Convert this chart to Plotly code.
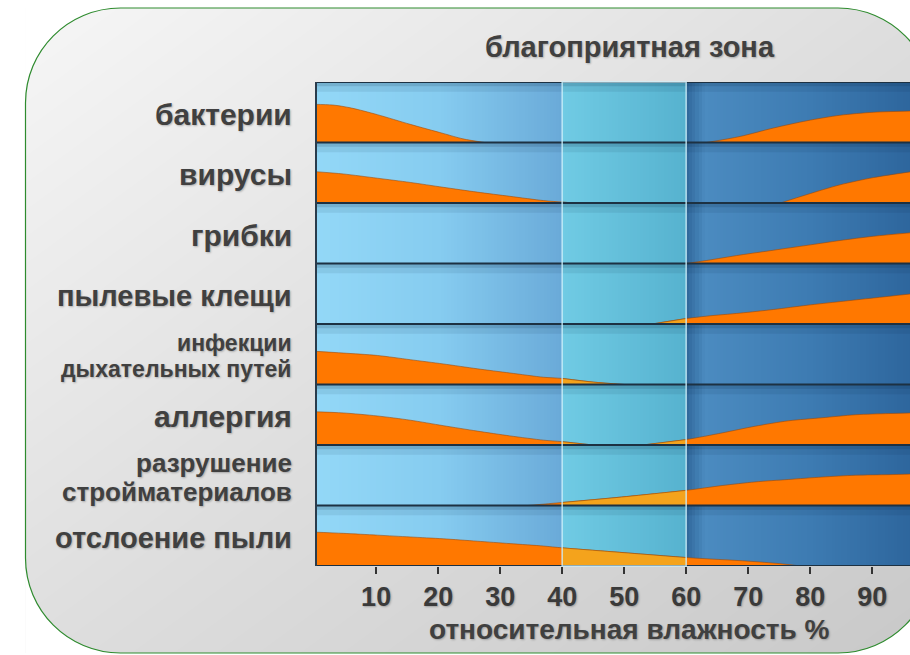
import plotly.graph_objects as go

# ---------------- data ----------------
categories = ["бактерии", "вирусы", "грибки", "пылевые клещи",
              "инфекции\nдыхательных путей", "аллергия",
              "разрушение\nстройматериалов", "отслоение пыли"]

x_ticks = [10, 20, 30, 40, 50, 60, 70, 80, 90]
zone_range = [40, 60]

# humidity (%) and relative band height (fraction of row) for each hazard
bact_left_x = [0, 3, 6, 10.2, 15.5, 20.8, 24, 27.5]
bact_left_h = [0.63, 0.62, 0.57, 0.46, 0.30, 0.15, 0.06, 0.0]
bact_right_x = [63.3, 68.7, 74.1, 79.5, 84.8, 90.2, 96.5]
bact_right_h = [0.0, 0.10, 0.24, 0.36, 0.45, 0.50, 0.52]

virus_left_x = [0, 4.7, 10.2, 15.5, 20.8, 26.3, 31.6, 37, 40, 42]
virus_left_h = [0.52, 0.48, 0.41, 0.34, 0.26, 0.18, 0.11, 0.04, 0.015, 0.0]
virus_right_x = [75.2, 79.5, 84.8, 90.2, 96.5]
virus_right_h = [0.0, 0.14, 0.30, 0.42, 0.52]

fungi_right_x = [60, 63.3, 68.7, 74.1, 79.5, 84.8, 90.2, 96.5]
fungi_right_h = [0.0, 0.05, 0.14, 0.22, 0.30, 0.38, 0.45, 0.51]

mites_right_x = [54.5, 60, 63.3, 68.7, 74.1, 79.5, 84.8, 90.2, 96.5]
mites_right_h = [0.0, 0.09, 0.13, 0.18, 0.24, 0.31, 0.37, 0.43, 0.50]

resp_left_x = [0, 4.7, 10.2, 15.5, 20.8, 26.3, 31.6, 37, 40, 45, 50]
resp_left_h = [0.55, 0.52, 0.48, 0.41, 0.34, 0.26, 0.19, 0.12, 0.10, 0.04, 0.0]

allergy_left_x = [0, 4.7, 10.2, 15.5, 20.8, 26.3, 31.6, 37, 40, 45]
allergy_left_h = [0.55, 0.53, 0.48, 0.41, 0.32, 0.23, 0.15, 0.08, 0.055, 0.0]
allergy_right_x = [53, 60, 65.8, 71.1, 76.5, 81.9, 87.3, 92.7, 96.5]
allergy_right_h = [0.0, 0.09, 0.20, 0.31, 0.40, 0.45, 0.50, 0.52, 0.53]

build_right_x = [34.5, 40, 49.6, 60, 65.8, 71.1, 76.5, 81.9, 87.3, 92.7, 96.5]
build_right_h = [0.0, 0.05, 0.14, 0.25, 0.33, 0.39, 0.43, 0.47, 0.50, 0.51, 0.52]

dust_left_x = [0, 4.7, 10.2, 15.5, 20.8, 26.3, 31.6, 37, 40, 50, 60, 70, 75, 78.5]
dust_left_h = [0.56, 0.54, 0.51, 0.48, 0.45, 0.41, 0.37, 0.33, 0.30, 0.22, 0.14, 0.08, 0.04, 0.0]

series = [  # (row index from top, x, h)
    (0, bact_left_x, bact_left_h), (0, bact_right_x, bact_right_h),
    (1, virus_left_x, virus_left_h), (1, virus_right_x, virus_right_h),
    (2, fungi_right_x, fungi_right_h),
    (3, mites_right_x, mites_right_h),
    (4, resp_left_x, resp_left_h),
    (5, allergy_left_x, allergy_left_h), (5, allergy_right_x, allergy_right_h),
    (6, build_right_x, build_right_h),
    (7, dust_left_x, dust_left_h),
]

# ---------------- styling ----------------
W, H = 910, 655
PL, PT, PB = 316, 82, 566
FONT = "Liberation Sans, Arial, sans-serif"
TXT = "#404040"
SHADOW = "1px 1px 2px rgba(0,0,0,0.25)"
ORANGE = "#ff7800"
AMBER = "#f4a31c"
NROWS = len(categories)
# per-label font size / line pitch (px)
label_sizes = [30, 30, 30, 29, 23, 30, 26, 29]
label_pitch = [0, 0, 0, 0, 26, 0, 29.5, 0]


def fx(p):
    return p / W


def fy(p):
    return 1 - p / H


fig = go.Figure()

# page background gradient (decorative)
fig.add_trace(go.Heatmap(
    x=[0, 1], y=[0, 1], z=[[1, 2], [0, 1]], zsmooth="best",
    colorscale=[[0, "#f6f6f6"], [0.5, "#dedede"], [1, "#c9c9c9"]],
    showscale=False, hoverinfo="skip", xaxis="x", yaxis="y"))

# chart background gradient with favourable zone
z0, z1 = zone_range
bg_scale = [
    [0.0, "#93d8f7"], [0.2, "#86ccf0"], [z0 / 100, "#6aaad8"],
    [z0 / 100 + 0.0001, "#70cbe4"], [z1 / 100, "#56b2cf"],
    [z1 / 100 + 0.0001, "#2f6699"], [z1 / 100 + 0.03, "#4b8bc0"],
    [0.8, "#3d7bb2"], [1.0, "#2a6198"],
]
edges = [i * 0.5 for i in range(0, 201)]
centers = [(a + b) / 2 for a, b in zip(edges[:-1], edges[1:])]
fig.add_trace(go.Heatmap(
    x=edges, y=[0, NROWS], z=[centers], zmin=0, zmax=100,
    colorscale=bg_scale, showscale=False, hoverinfo="skip",
    xaxis="x2", yaxis="y2"))

# hazard bands
for row, xs, hs in series:
    base = NROWS - 1 - row
    top = [base + h for h in hs]
    for color, sel in ((ORANGE, None), (AMBER, (z0, z1))):
        if sel is None:
            px_, py_ = xs, top
        else:
            idx = [i for i, x in enumerate(xs) if sel[0] <= x <= sel[1]]
            if len(idx) < 2:
                continue
            px_ = [xs[i] for i in idx]
            py_ = [top[i] for i in idx]
        fig.add_trace(go.Scatter(x=[px_[0], px_[-1]], y=[base, base], mode="lines",
                                 line=dict(width=0), hoverinfo="skip",
                                 showlegend=False, xaxis="x2", yaxis="y2"))
        fig.add_trace(go.Scatter(x=px_, y=py_, mode="lines", fill="tonexty",
                                 fillcolor=color,
                                 line=dict(color="rgba(150,70,10,0.55)", width=1,
                                           shape="spline", smoothing=0.8),
                                 hoverinfo="skip", showlegend=False,
                                 xaxis="x2", yaxis="y2"))

shapes = []
# row separators with a soft shadow below
for k in range(NROWS + 1):
    shapes.append(dict(type="rect", xref="x2 domain", yref="y2", x0=0, x1=1,
                       y0=k - 0.07, y1=k, fillcolor="rgba(0,25,50,0.20)",
                       line=dict(width=0), layer="above"))
    shapes.append(dict(type="rect", xref="x2 domain", yref="y2", x0=0, x1=1,
                       y0=k - 0.16, y1=k - 0.07, fillcolor="rgba(0,25,50,0.08)",
                       line=dict(width=0), layer="above"))
    shapes.append(dict(type="line", xref="x2 domain", yref="y2", x0=0, x1=1,
                       y0=k, y1=k, line=dict(color="#1d3142", width=2),
                       layer="above"))
# left border
shapes.append(dict(type="line", xref="x2 domain", yref="y2 domain", x0=0, x1=0,
                   y0=0, y1=1, line=dict(color="#2a3c4c", width=2), layer="above"))
# zone outline
shapes.append(dict(type="rect", xref="x2", yref="y2 domain", x0=z0, x1=z1,
                   y0=0, y1=1, line=dict(color="rgba(205,240,250,0.85)", width=1.5),
                   layer="above"))

# rounded frame
L, T, R, B, r = 25.5, 8, 933, 653, 95
k = 0.5523 * r


def P(x, y):
    return f"{fx(x):.5f},{fy(y):.5f}"


masks = [
    f"M{P(L, T)} L{P(L + r, T)} C{P(L + r - k, T)} {P(L, T + r - k)} {P(L, T + r)} Z",
    f"M{P(R, T)} L{P(R, T + r)} C{P(R, T + r - k)} {P(R - r + k, T)} {P(R - r, T)} Z",
    f"M{P(L, B)} L{P(L, B - r)} C{P(L, B - r + k)} {P(L + r - k, B)} {P(L + r, B)} Z",
    f"M{P(R, B)} L{P(R - r, B)} C{P(R - r + k, B)} {P(R, B - r + k)} {P(R, B - r)} Z",
]
for m in masks:
    shapes.append(dict(type="path", xref="paper", yref="paper", path=m,
                       fillcolor="white", line=dict(width=0), layer="above"))
frame = (f"M{P(L + r, T)} L{P(R - r, T)} C{P(R - r + k, T)} {P(R, T + r - k)} {P(R, T + r)} "
         f"L{P(R, B - r)} C{P(R, B - r + k)} {P(R - r + k, B)} {P(R - r, B)} "
         f"L{P(L + r, B)} C{P(L + r - k, B)} {P(L, B - r + k)} {P(L, B - r)} "
         f"L{P(L, T + r)} C{P(L, T + r - k)} {P(L + r - k, T)} {P(L + r, T)} Z")
shapes.append(dict(type="path", xref="paper", yref="paper", path=frame,
                   line=dict(color="#2e8b2e", width=1.2), layer="above"))

# category labels
annotations = []
row_h = (PB - PT) / NROWS
for i, cat in enumerate(categories):
    lines = cat.split("\n")
    center = PT + (i + 0.5) * row_h
    n = len(lines)
    for j, ln in enumerate(lines):
        annotations.append(dict(
            text=ln, x=fx(293),
            y=fy(center + 2 + (j - (n - 1) / 2) * label_pitch[i]),
            xref="paper", yref="paper", xanchor="right", yanchor="middle",
            showarrow=False, borderpad=0,
            font=dict(family=FONT, size=label_sizes[i], color=TXT,
                      weight="bold", shadow=SHADOW)))

annotations.append(dict(text="благоприятная зона", x=(z0 + z1) / 2 + 0.9, y=fy(47),
                        xref="x2", yref="paper", xanchor="center", yanchor="middle",
                        showarrow=False,
                        font=dict(family=FONT, size=29, color=TXT, weight="bold",
                                  shadow=SHADOW)))
annotations.append(dict(text="относительная влажность %", x=50.7, y=fy(629),
                        xref="x2", yref="paper", xanchor="center", yanchor="middle",
                        showarrow=False,
                        font=dict(family=FONT, size=28, color=TXT, weight="bold",
                                  shadow=SHADOW)))

fig.update_layout(
    width=W, height=H, margin=dict(l=0, r=0, t=0, b=0),
    paper_bgcolor="white", plot_bgcolor="rgba(0,0,0,0)",
    showlegend=False,
    xaxis=dict(domain=[fx(L), 1], range=[0, 1], visible=False, fixedrange=True),
    yaxis=dict(domain=[fy(B), fy(T)], range=[0, 1], visible=False, fixedrange=True),
    xaxis2=dict(domain=[fx(PL), 1], range=[0.3, 96.1], anchor="y2",
                tickvals=x_ticks, ticktext=[str(v) for v in x_ticks],
                ticks="outside", ticklen=7, tickwidth=2, tickcolor="#333333",
                showgrid=False, zeroline=False, showline=False,
                tickfont=dict(family=FONT, size=27, color="#3a3a3a", weight="bold",
                              shadow=SHADOW)),
    yaxis2=dict(domain=[fy(PB), fy(PT)], range=[0, NROWS], anchor="x2",
                visible=False, showgrid=False, zeroline=False),
    shapes=shapes, annotations=annotations,
)

fig.write_html("out.html")
